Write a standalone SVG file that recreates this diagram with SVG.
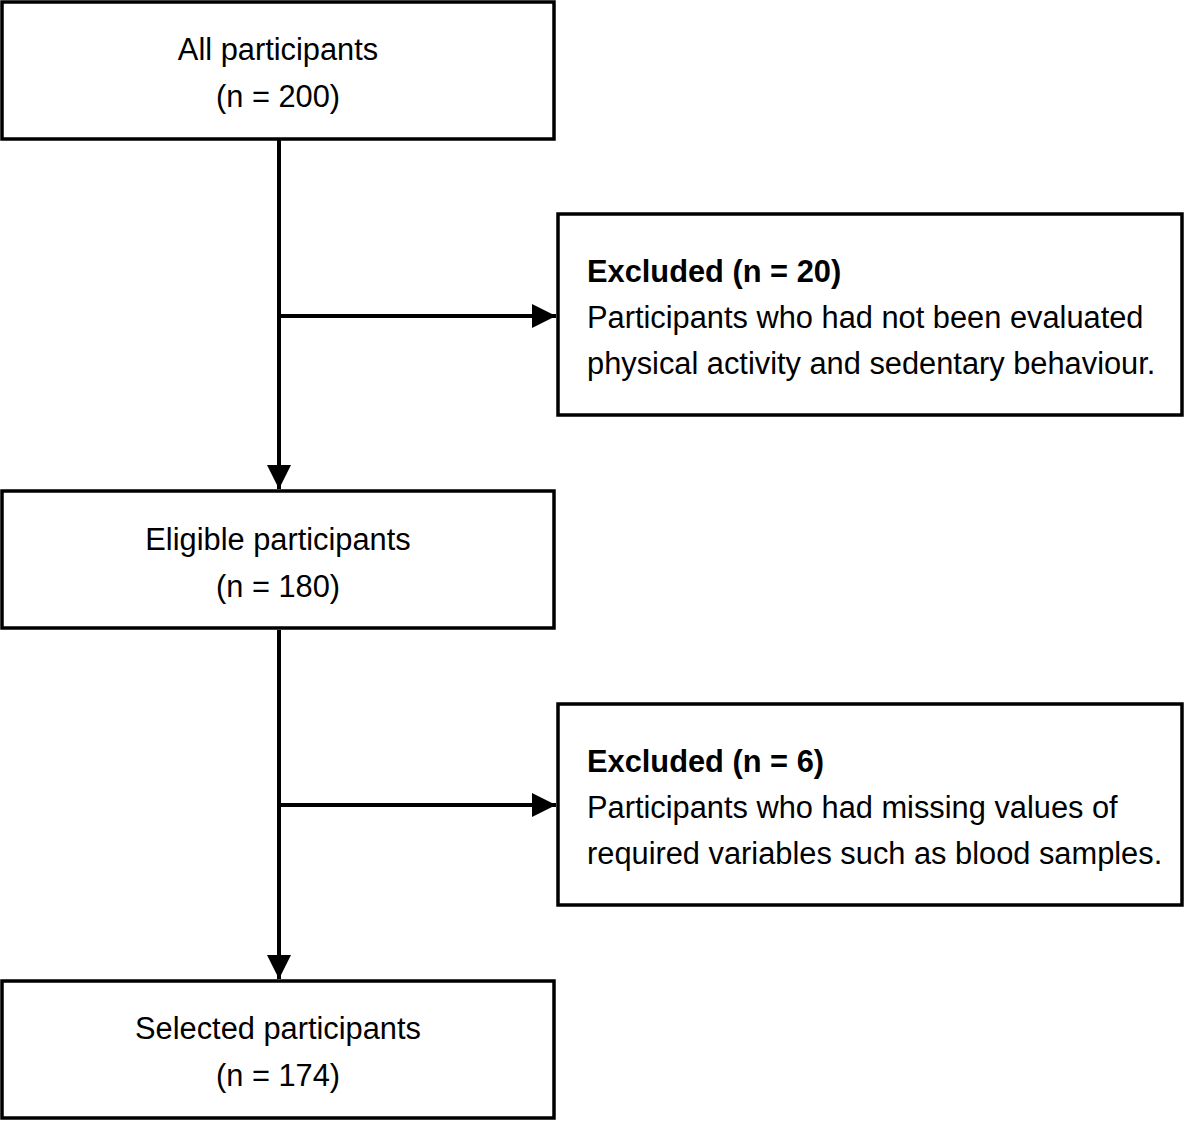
<svg xmlns="http://www.w3.org/2000/svg" width="1185" height="1121" viewBox="0 0 1185 1121">
<style>
.box{fill:#fff;stroke:#000;stroke-width:3.5}
.t{font-family:"Liberation Sans",Arial,sans-serif;font-size:30.8px;fill:#000}
.c{text-anchor:middle}
.b{font-weight:bold}
.ln{stroke:#000;stroke-width:4;fill:none}
</style>
<defs>
<marker id="ah" markerWidth="6" markerHeight="6" refX="6" refY="3" orient="auto" markerUnits="strokeWidth">
<path d="M0,0 L6,3 L0,6 Z" fill="#000"/>
</marker>
</defs>
<rect width="1185" height="1121" fill="#fff"/>
<g id="connectors">
<line class="ln" x1="279" y1="140" x2="279" y2="489" marker-end="url(#ah)"/>
<line class="ln" x1="279" y1="316" x2="556" y2="316" marker-end="url(#ah)"/>
<line class="ln" x1="279" y1="630" x2="279" y2="979" marker-end="url(#ah)"/>
<line class="ln" x1="279" y1="805" x2="556" y2="805" marker-end="url(#ah)"/>
</g>
<g id="all">
<rect class="box" x="2" y="2" width="552" height="137"/>
<text class="t c" x="278" y="60">All participants</text>
<text class="t c" x="278" y="107">(n = 200)</text>
</g>
<g id="excluded1">
<rect class="box" x="558" y="214" width="624" height="201"/>
<text class="t b" x="587" y="282">Excluded (n = 20)</text>
<text class="t" x="587" y="328">Participants who had not been evaluated</text>
<text class="t" x="587" y="374">physical activity and sedentary behaviour.</text>
</g>
<g id="eligible">
<rect class="box" x="2" y="491" width="552" height="137"/>
<text class="t c" x="278" y="550">Eligible participants</text>
<text class="t c" x="278" y="597">(n = 180)</text>
</g>
<g id="excluded2">
<rect class="box" x="558" y="704" width="624" height="201"/>
<text class="t b" x="587" y="772">Excluded (n = 6)</text>
<text class="t" x="587" y="818">Participants who had missing values of</text>
<text class="t" x="587" y="864">required variables such as blood samples.</text>
</g>
<g id="selected">
<rect class="box" x="2" y="981" width="552" height="137"/>
<text class="t c" x="278" y="1039">Selected participants</text>
<text class="t c" x="278" y="1086">(n = 174)</text>
</g>
</svg>
